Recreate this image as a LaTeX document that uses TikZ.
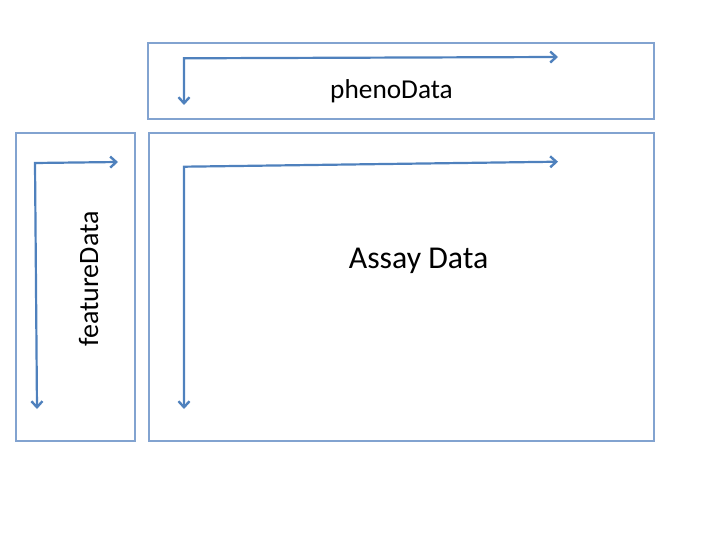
\documentclass[tikz,border=0pt]{standalone}
\usepackage{fontspec}
\setmainfont{Carlito}
\usetikzlibrary{arrows.meta}
\definecolor{boxblue}{RGB}{130,163,208}
\definecolor{arrowblue}{RGB}{79,129,189}
\tikzset{
  panel/.style={draw=boxblue, line width=1.6pt, rectangle, inner sep=0pt},
  axis/.style={draw=arrowblue, line width=2.2pt, {Straight Barb[length=6pt,width=11pt,line width=2.4pt]}-{Straight Barb[length=6pt,width=11pt,line width=2.4pt]}},
  lbl/.style={inner sep=0pt, text=black}
}
\begin{document}
\begin{tikzpicture}[x=1pt,y=-1pt]
\useasboundingbox (0,0) rectangle (720,540);
% panels
\node[panel, minimum width=506pt, minimum height=76pt] (pheno) at (401,81) {};
\node[panel, minimum width=505pt, minimum height=308pt] (assay) at (401.5,287) {};
\node[panel, minimum width=119pt, minimum height=308pt] (feature) at (75.5,287) {};
% labels
\node[lbl, anchor=base, font=\fontsize{27.3}{30}\selectfont] (phenolbl) at (391.5,98.5) {phenoData};
\node[lbl, anchor=base, font=\fontsize{31.8}{35}\selectfont] (assaylbl) at (418.6,268) {Assay Data};
\node[lbl, anchor=base, rotate=90, font=\fontsize{28}{31}\selectfont] (featlbl) at (98,279) {featureData};
% arrow coordinates
\coordinate (pd) at (184,105);
\coordinate (pc) at (184,58.3);
\coordinate (pr) at (558,57);
\coordinate (ad) at (184,409);
\coordinate (ac) at (184,166.7);
\coordinate (ar) at (558,161.7);
\coordinate (fd) at (37,409);
\coordinate (fc) at (35,163);
\coordinate (fr) at (118,162);
\draw[axis] (pd) -- (pc) -- (pr);
\draw[axis] (ad) -- (ac) -- (ar);
\draw[axis] (fd) -- (fc) -- (fr);
\end{tikzpicture}
\end{document}
